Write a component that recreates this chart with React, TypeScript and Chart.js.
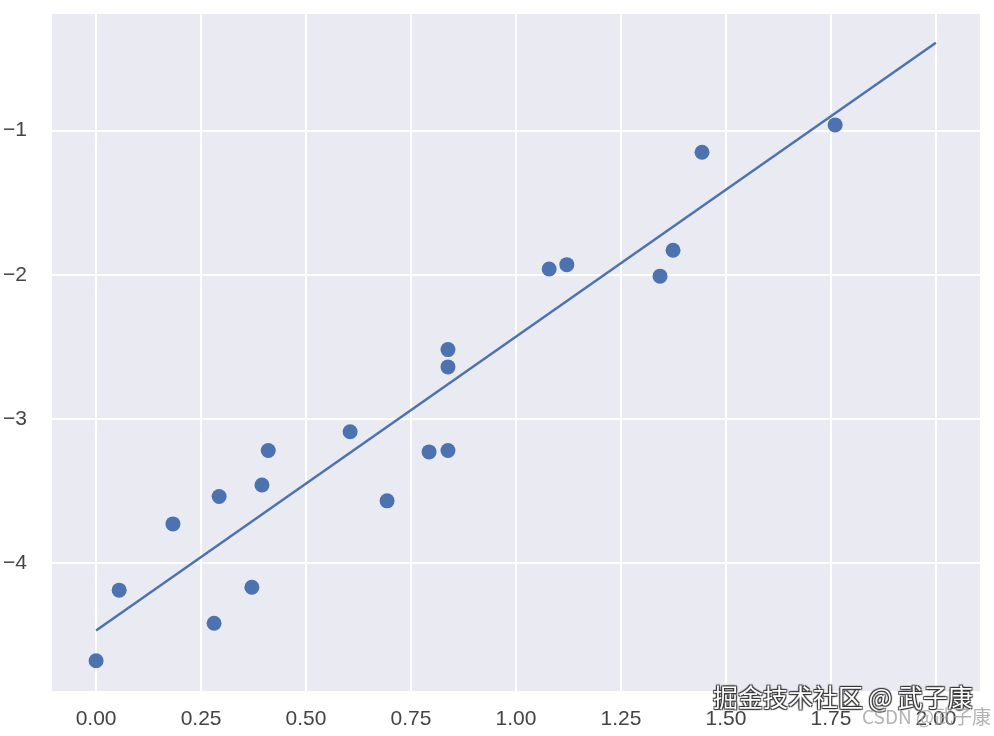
import React, { useEffect, useRef } from "react";
import { Chart, registerables } from "chart.js";

Chart.register(...registerables);

const pointX = [0.0, 0.055, 0.183, 0.281, 0.293, 0.371, 0.395, 0.41, 0.605, 0.693, 0.793, 0.838, 0.838, 0.838, 1.079, 1.121, 1.343, 1.374, 1.443, 1.76];
const pointY = [-4.68, -4.19, -3.73, -4.42, -3.54, -4.17, -3.46, -3.22, -3.09, -3.57, -3.23, -2.52, -2.64, -3.22, -1.96, -1.93, -2.01, -1.83, -1.15, -0.96];
const lineX = [0, 2];
const lineY = [-4.47, -0.39];
const xTicks = [0, 0.25, 0.5, 0.75, 1.0, 1.25, 1.5, 1.75, 2.0];
const yTicks = [-4, -3, -2, -1];

const BLUE = "#4C72B0";

const bgPlugin = {
  id: "plotBg",
  beforeDraw(chart: any) {
    const { ctx, chartArea } = chart;
    ctx.save();
    ctx.fillStyle = "#EAEAF2";
    ctx.fillRect(chartArea.left, chartArea.top, chartArea.right - chartArea.left, chartArea.bottom - chartArea.top);
    ctx.restore();
  },
};

export default function App() {
  const ref = useRef<HTMLCanvasElement | null>(null);
  useEffect(() => {
    if (!ref.current) return;
    const chart = new Chart(ref.current, {
      type: "scatter",
      data: {
        datasets: [
          {
            type: "line",
            data: lineX.map((x, i) => ({ x, y: lineY[i] })),
            borderColor: BLUE,
            borderWidth: 2.5,
            pointRadius: 0,
            fill: false,
          } as any,
          {
            type: "scatter",
            data: pointX.map((x, i) => ({ x, y: pointY[i] })),
            backgroundColor: BLUE,
            borderColor: BLUE,
            borderWidth: 0,
            pointRadius: 7.5,
          },
        ],
      },
      options: {
        animation: false,
        responsive: false,
        devicePixelRatio: 1,
        layout: { autoPadding: false, padding: { top: 14, right: 14, left: 0, bottom: 0 } },
        plugins: { legend: { display: false }, tooltip: { enabled: false } },
        scales: {
          x: {
            type: "linear",
            min: -0.105,
            max: 2.105,
            afterBuildTicks: (s: any) => {
              s.ticks = xTicks.map((v) => ({ value: v }));
            },
            afterFit: (s: any) => {
              s.height = 45;
              s.paddingLeft = 0;
              s.paddingRight = 0;
            },
            grid: { color: "#ffffff", lineWidth: 2, drawTicks: false },
            border: { display: false },
            ticks: {
              padding: 16,
              color: "#444444",
              font: { family: "'Liberation Sans', Arial, sans-serif", size: 21 },
              callback: (v: any) => Number(v).toFixed(2),
            },
          },
          y: {
            type: "linear",
            min: -4.89,
            max: -0.19,
            afterBuildTicks: (s: any) => {
              s.ticks = yTicks.map((v) => ({ value: v }));
            },
            afterFit: (s: any) => {
              s.width = 52;
              s.paddingTop = 0;
              s.paddingBottom = 0;
            },
            grid: { color: "#ffffff", lineWidth: 2, drawTicks: false },
            border: { display: false },
            ticks: {
              padding: 25,
              color: "#444444",
              font: { family: "'Liberation Sans', Arial, sans-serif", size: 21 },
              callback: (v: any) => (Number(v) < 0 ? "\u2212" + Math.abs(Number(v)) : String(v)),
            },
          },
        },
      },
      plugins: [bgPlugin],
    } as any);
    return () => chart.destroy();
  }, []);

  return (
    <div style={{ position: "fixed", left: 0, top: 0, width: 994, height: 736, background: "#ffffff" }}>
      <canvas ref={ref} width={994} height={736} style={{ display: "block" }} />
      <div
        style={{
          position: "absolute",
          left: 713,
          top: 681,
          fontFamily: "'Noto Sans CJK SC', sans-serif",
          fontSize: 25,
          lineHeight: "30px",
          color: "#ffffff",
          whiteSpace: "nowrap",
          textShadow: "1px 1px 1px #333, -1px -1px 1px #333, 1px -1px 1px #333, -1px 1px 1px #333",
        }}
      >
        掘金技术社区 @ 武子康
      </div>
      <div
        style={{
          position: "absolute",
          left: 862,
          top: 704,
          fontFamily: "'Noto Sans CJK SC', sans-serif",
          fontSize: 19,
          lineHeight: "24px",
          color: "rgba(160,160,160,0.8)",
          whiteSpace: "nowrap",
        }}
      >
        CSDN @武子康
      </div>
    </div>
  );
}
